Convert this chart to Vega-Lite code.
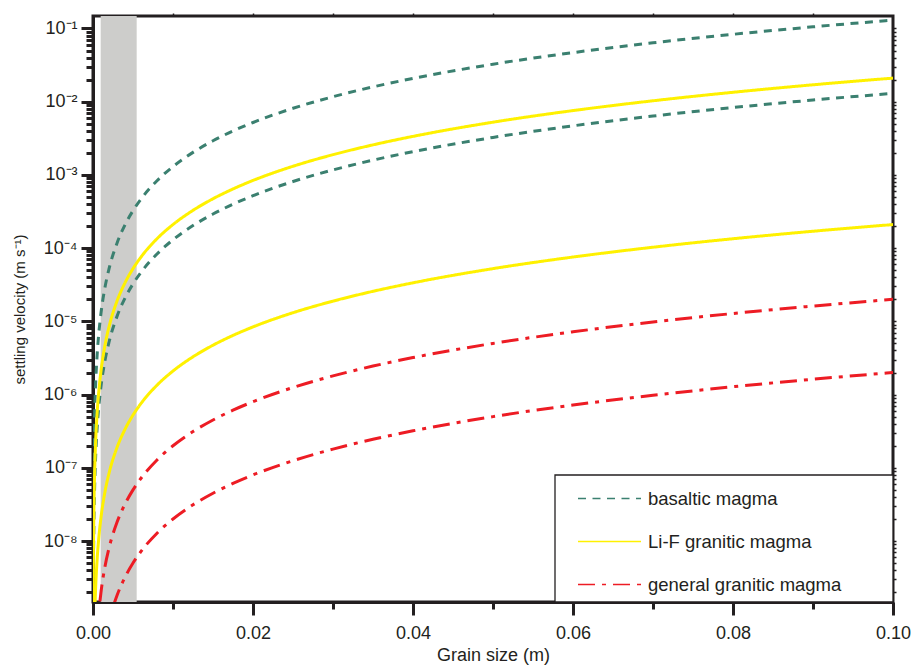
{
  "$schema": "https://vega.github.io/schema/vega-lite/v6.json",
  "width": 800,
  "height": 586,
  "autosize": {"type": "none"},
  "padding": {"left": 93, "top": 16, "right": 22, "bottom": 63},
  "background": "white",
  "config": {
    "view": {"stroke": "#231f20", "strokeWidth": 3},
    "axis": {
      "domainColor": "#231f20", "tickColor": "#231f20", "labelColor": "#231f20", "titleColor": "#231f20",
      "labelFont": "Liberation Sans", "titleFont": "Liberation Sans", "grid": false,
      "domainWidth": 3, "tickWidth": 3, "labelFontSize": 18, "titleFontSize": 18, "titleFontWeight": "normal"
    },
    "legend": {
      "orient": "none", "legendX": 505, "legendY": 471, "padding": 0,
      "symbolType": "M-3,0H3", "symbolSize": 441, "symbolStrokeWidth": 1.5,
      "labelFont": "Liberation Sans", "labelFontSize": 18.5, "labelColor": "#231f20", "labelLimit": 400,
      "labelOffset": 27, "rowPadding": 22
    }
  },
  "datasets": {
    "curves": [
      {"d":0.00001,"v":1.3e-9,"c":"B1","m":"basaltic magma"},
      {"d":0.00005,"v":3.25e-8,"c":"B1","m":"basaltic magma"},
      {"d":0.0001,"v":1.3e-7,"c":"B1","m":"basaltic magma"},
      {"d":0.0002,"v":5.2e-7,"c":"B1","m":"basaltic magma"},
      {"d":0.0003,"v":1.17e-6,"c":"B1","m":"basaltic magma"},
      {"d":0.0005,"v":3.25e-6,"c":"B1","m":"basaltic magma"},
      {"d":0.0007,"v":6.37e-6,"c":"B1","m":"basaltic magma"},
      {"d":0.001,"v":1.3e-5,"c":"B1","m":"basaltic magma"},
      {"d":0.0015,"v":2.925e-5,"c":"B1","m":"basaltic magma"},
      {"d":0.002,"v":5.2e-5,"c":"B1","m":"basaltic magma"},
      {"d":0.003,"v":1.17e-4,"c":"B1","m":"basaltic magma"},
      {"d":0.004,"v":2.08e-4,"c":"B1","m":"basaltic magma"},
      {"d":0.005,"v":3.25e-4,"c":"B1","m":"basaltic magma"},
      {"d":0.006,"v":4.68e-4,"c":"B1","m":"basaltic magma"},
      {"d":0.008,"v":8.32e-4,"c":"B1","m":"basaltic magma"},
      {"d":0.01,"v":1.3e-3,"c":"B1","m":"basaltic magma"},
      {"d":0.0125,"v":2.031e-3,"c":"B1","m":"basaltic magma"},
      {"d":0.015,"v":2.925e-3,"c":"B1","m":"basaltic magma"},
      {"d":0.0175,"v":3.981e-3,"c":"B1","m":"basaltic magma"},
      {"d":0.02,"v":5.2e-3,"c":"B1","m":"basaltic magma"},
      {"d":0.025,"v":8.125e-3,"c":"B1","m":"basaltic magma"},
      {"d":0.03,"v":1.17e-2,"c":"B1","m":"basaltic magma"},
      {"d":0.035,"v":1.5925e-2,"c":"B1","m":"basaltic magma"},
      {"d":0.04,"v":2.08e-2,"c":"B1","m":"basaltic magma"},
      {"d":0.05,"v":3.25e-2,"c":"B1","m":"basaltic magma"},
      {"d":0.06,"v":4.68e-2,"c":"B1","m":"basaltic magma"},
      {"d":0.07,"v":6.37e-2,"c":"B1","m":"basaltic magma"},
      {"d":0.08,"v":8.32e-2,"c":"B1","m":"basaltic magma"},
      {"d":0.09,"v":0.1053,"c":"B1","m":"basaltic magma"},
      {"d":0.1,"v":0.13,"c":"B1","m":"basaltic magma"},

      {"d":0.00001,"v":1.3e-10,"c":"B2","m":"basaltic magma"},
      {"d":0.00005,"v":3.25e-9,"c":"B2","m":"basaltic magma"},
      {"d":0.0001,"v":1.3e-8,"c":"B2","m":"basaltic magma"},
      {"d":0.0002,"v":5.2e-8,"c":"B2","m":"basaltic magma"},
      {"d":0.0003,"v":1.17e-7,"c":"B2","m":"basaltic magma"},
      {"d":0.0005,"v":3.25e-7,"c":"B2","m":"basaltic magma"},
      {"d":0.0007,"v":6.37e-7,"c":"B2","m":"basaltic magma"},
      {"d":0.001,"v":1.3e-6,"c":"B2","m":"basaltic magma"},
      {"d":0.0015,"v":2.925e-6,"c":"B2","m":"basaltic magma"},
      {"d":0.002,"v":5.2e-6,"c":"B2","m":"basaltic magma"},
      {"d":0.003,"v":1.17e-5,"c":"B2","m":"basaltic magma"},
      {"d":0.004,"v":2.08e-5,"c":"B2","m":"basaltic magma"},
      {"d":0.005,"v":3.25e-5,"c":"B2","m":"basaltic magma"},
      {"d":0.006,"v":4.68e-5,"c":"B2","m":"basaltic magma"},
      {"d":0.008,"v":8.32e-5,"c":"B2","m":"basaltic magma"},
      {"d":0.01,"v":1.3e-4,"c":"B2","m":"basaltic magma"},
      {"d":0.0125,"v":2.031e-4,"c":"B2","m":"basaltic magma"},
      {"d":0.015,"v":2.925e-4,"c":"B2","m":"basaltic magma"},
      {"d":0.0175,"v":3.981e-4,"c":"B2","m":"basaltic magma"},
      {"d":0.02,"v":5.2e-4,"c":"B2","m":"basaltic magma"},
      {"d":0.025,"v":8.125e-4,"c":"B2","m":"basaltic magma"},
      {"d":0.03,"v":1.17e-3,"c":"B2","m":"basaltic magma"},
      {"d":0.035,"v":1.5925e-3,"c":"B2","m":"basaltic magma"},
      {"d":0.04,"v":2.08e-3,"c":"B2","m":"basaltic magma"},
      {"d":0.05,"v":3.25e-3,"c":"B2","m":"basaltic magma"},
      {"d":0.06,"v":4.68e-3,"c":"B2","m":"basaltic magma"},
      {"d":0.07,"v":6.37e-3,"c":"B2","m":"basaltic magma"},
      {"d":0.08,"v":8.32e-3,"c":"B2","m":"basaltic magma"},
      {"d":0.09,"v":1.053e-2,"c":"B2","m":"basaltic magma"},
      {"d":0.1,"v":1.3e-2,"c":"B2","m":"basaltic magma"},

      {"d":0.00001,"v":2.1e-10,"c":"L1","m":"Li-F granitic magma"},
      {"d":0.00005,"v":5.25e-9,"c":"L1","m":"Li-F granitic magma"},
      {"d":0.0001,"v":2.1e-8,"c":"L1","m":"Li-F granitic magma"},
      {"d":0.0002,"v":8.4e-8,"c":"L1","m":"Li-F granitic magma"},
      {"d":0.0003,"v":1.89e-7,"c":"L1","m":"Li-F granitic magma"},
      {"d":0.0005,"v":5.25e-7,"c":"L1","m":"Li-F granitic magma"},
      {"d":0.0007,"v":1.029e-6,"c":"L1","m":"Li-F granitic magma"},
      {"d":0.001,"v":2.1e-6,"c":"L1","m":"Li-F granitic magma"},
      {"d":0.0015,"v":4.725e-6,"c":"L1","m":"Li-F granitic magma"},
      {"d":0.002,"v":8.4e-6,"c":"L1","m":"Li-F granitic magma"},
      {"d":0.003,"v":1.89e-5,"c":"L1","m":"Li-F granitic magma"},
      {"d":0.004,"v":3.36e-5,"c":"L1","m":"Li-F granitic magma"},
      {"d":0.005,"v":5.25e-5,"c":"L1","m":"Li-F granitic magma"},
      {"d":0.006,"v":7.56e-5,"c":"L1","m":"Li-F granitic magma"},
      {"d":0.008,"v":1.344e-4,"c":"L1","m":"Li-F granitic magma"},
      {"d":0.01,"v":2.1e-4,"c":"L1","m":"Li-F granitic magma"},
      {"d":0.0125,"v":3.281e-4,"c":"L1","m":"Li-F granitic magma"},
      {"d":0.015,"v":4.725e-4,"c":"L1","m":"Li-F granitic magma"},
      {"d":0.0175,"v":6.431e-4,"c":"L1","m":"Li-F granitic magma"},
      {"d":0.02,"v":8.4e-4,"c":"L1","m":"Li-F granitic magma"},
      {"d":0.025,"v":1.3125e-3,"c":"L1","m":"Li-F granitic magma"},
      {"d":0.03,"v":1.89e-3,"c":"L1","m":"Li-F granitic magma"},
      {"d":0.035,"v":2.5725e-3,"c":"L1","m":"Li-F granitic magma"},
      {"d":0.04,"v":3.36e-3,"c":"L1","m":"Li-F granitic magma"},
      {"d":0.05,"v":5.25e-3,"c":"L1","m":"Li-F granitic magma"},
      {"d":0.06,"v":7.56e-3,"c":"L1","m":"Li-F granitic magma"},
      {"d":0.07,"v":1.029e-2,"c":"L1","m":"Li-F granitic magma"},
      {"d":0.08,"v":1.344e-2,"c":"L1","m":"Li-F granitic magma"},
      {"d":0.09,"v":1.701e-2,"c":"L1","m":"Li-F granitic magma"},
      {"d":0.1,"v":2.1e-2,"c":"L1","m":"Li-F granitic magma"},

      {"d":0.0001,"v":2.1e-10,"c":"L2","m":"Li-F granitic magma"},
      {"d":0.0002,"v":8.4e-10,"c":"L2","m":"Li-F granitic magma"},
      {"d":0.0003,"v":1.89e-9,"c":"L2","m":"Li-F granitic magma"},
      {"d":0.0005,"v":5.25e-9,"c":"L2","m":"Li-F granitic magma"},
      {"d":0.0007,"v":1.029e-8,"c":"L2","m":"Li-F granitic magma"},
      {"d":0.001,"v":2.1e-8,"c":"L2","m":"Li-F granitic magma"},
      {"d":0.0015,"v":4.725e-8,"c":"L2","m":"Li-F granitic magma"},
      {"d":0.002,"v":8.4e-8,"c":"L2","m":"Li-F granitic magma"},
      {"d":0.003,"v":1.89e-7,"c":"L2","m":"Li-F granitic magma"},
      {"d":0.004,"v":3.36e-7,"c":"L2","m":"Li-F granitic magma"},
      {"d":0.005,"v":5.25e-7,"c":"L2","m":"Li-F granitic magma"},
      {"d":0.006,"v":7.56e-7,"c":"L2","m":"Li-F granitic magma"},
      {"d":0.008,"v":1.344e-6,"c":"L2","m":"Li-F granitic magma"},
      {"d":0.01,"v":2.1e-6,"c":"L2","m":"Li-F granitic magma"},
      {"d":0.0125,"v":3.281e-6,"c":"L2","m":"Li-F granitic magma"},
      {"d":0.015,"v":4.725e-6,"c":"L2","m":"Li-F granitic magma"},
      {"d":0.0175,"v":6.431e-6,"c":"L2","m":"Li-F granitic magma"},
      {"d":0.02,"v":8.4e-6,"c":"L2","m":"Li-F granitic magma"},
      {"d":0.025,"v":1.3125e-5,"c":"L2","m":"Li-F granitic magma"},
      {"d":0.03,"v":1.89e-5,"c":"L2","m":"Li-F granitic magma"},
      {"d":0.035,"v":2.5725e-5,"c":"L2","m":"Li-F granitic magma"},
      {"d":0.04,"v":3.36e-5,"c":"L2","m":"Li-F granitic magma"},
      {"d":0.05,"v":5.25e-5,"c":"L2","m":"Li-F granitic magma"},
      {"d":0.06,"v":7.56e-5,"c":"L2","m":"Li-F granitic magma"},
      {"d":0.07,"v":1.029e-4,"c":"L2","m":"Li-F granitic magma"},
      {"d":0.08,"v":1.344e-4,"c":"L2","m":"Li-F granitic magma"},
      {"d":0.09,"v":1.701e-4,"c":"L2","m":"Li-F granitic magma"},
      {"d":0.1,"v":2.1e-4,"c":"L2","m":"Li-F granitic magma"},

      {"d":0.0005,"v":5e-10,"c":"G1","m":"general granitic magma"},
      {"d":0.0007,"v":9.8e-10,"c":"G1","m":"general granitic magma"},
      {"d":0.001,"v":2e-9,"c":"G1","m":"general granitic magma"},
      {"d":0.0015,"v":4.5e-9,"c":"G1","m":"general granitic magma"},
      {"d":0.002,"v":8e-9,"c":"G1","m":"general granitic magma"},
      {"d":0.003,"v":1.8e-8,"c":"G1","m":"general granitic magma"},
      {"d":0.004,"v":3.2e-8,"c":"G1","m":"general granitic magma"},
      {"d":0.005,"v":5e-8,"c":"G1","m":"general granitic magma"},
      {"d":0.006,"v":7.2e-8,"c":"G1","m":"general granitic magma"},
      {"d":0.008,"v":1.28e-7,"c":"G1","m":"general granitic magma"},
      {"d":0.01,"v":2e-7,"c":"G1","m":"general granitic magma"},
      {"d":0.0125,"v":3.125e-7,"c":"G1","m":"general granitic magma"},
      {"d":0.015,"v":4.5e-7,"c":"G1","m":"general granitic magma"},
      {"d":0.0175,"v":6.125e-7,"c":"G1","m":"general granitic magma"},
      {"d":0.02,"v":8e-7,"c":"G1","m":"general granitic magma"},
      {"d":0.025,"v":1.25e-6,"c":"G1","m":"general granitic magma"},
      {"d":0.03,"v":1.8e-6,"c":"G1","m":"general granitic magma"},
      {"d":0.035,"v":2.45e-6,"c":"G1","m":"general granitic magma"},
      {"d":0.04,"v":3.2e-6,"c":"G1","m":"general granitic magma"},
      {"d":0.05,"v":5e-6,"c":"G1","m":"general granitic magma"},
      {"d":0.06,"v":7.2e-6,"c":"G1","m":"general granitic magma"},
      {"d":0.07,"v":9.8e-6,"c":"G1","m":"general granitic magma"},
      {"d":0.08,"v":1.28e-5,"c":"G1","m":"general granitic magma"},
      {"d":0.09,"v":1.62e-5,"c":"G1","m":"general granitic magma"},
      {"d":0.1,"v":2e-5,"c":"G1","m":"general granitic magma"},

      {"d":0.0015,"v":4.5e-10,"c":"G2","m":"general granitic magma"},
      {"d":0.002,"v":8e-10,"c":"G2","m":"general granitic magma"},
      {"d":0.003,"v":1.8e-9,"c":"G2","m":"general granitic magma"},
      {"d":0.004,"v":3.2e-9,"c":"G2","m":"general granitic magma"},
      {"d":0.005,"v":5e-9,"c":"G2","m":"general granitic magma"},
      {"d":0.006,"v":7.2e-9,"c":"G2","m":"general granitic magma"},
      {"d":0.008,"v":1.28e-8,"c":"G2","m":"general granitic magma"},
      {"d":0.01,"v":2e-8,"c":"G2","m":"general granitic magma"},
      {"d":0.0125,"v":3.125e-8,"c":"G2","m":"general granitic magma"},
      {"d":0.015,"v":4.5e-8,"c":"G2","m":"general granitic magma"},
      {"d":0.0175,"v":6.125e-8,"c":"G2","m":"general granitic magma"},
      {"d":0.02,"v":8e-8,"c":"G2","m":"general granitic magma"},
      {"d":0.025,"v":1.25e-7,"c":"G2","m":"general granitic magma"},
      {"d":0.03,"v":1.8e-7,"c":"G2","m":"general granitic magma"},
      {"d":0.035,"v":2.45e-7,"c":"G2","m":"general granitic magma"},
      {"d":0.04,"v":3.2e-7,"c":"G2","m":"general granitic magma"},
      {"d":0.05,"v":5e-7,"c":"G2","m":"general granitic magma"},
      {"d":0.06,"v":7.2e-7,"c":"G2","m":"general granitic magma"},
      {"d":0.07,"v":9.8e-7,"c":"G2","m":"general granitic magma"},
      {"d":0.08,"v":1.28e-6,"c":"G2","m":"general granitic magma"},
      {"d":0.09,"v":1.62e-6,"c":"G2","m":"general granitic magma"},
      {"d":0.1,"v":2e-6,"c":"G2","m":"general granitic magma"}
    ]
  },
  "layer": [
    {
      "data": {"values": [{"x0": 0.00096, "x1": 0.00546}]},
      "mark": {"type": "rect", "fill": "#cdcdcb", "clip": true},
      "encoding": {
        "x": {"field": "x0", "type": "quantitative", "scale": {"domain": [0, 0.1], "nice": false, "zero": false}, "axis": null},
        "x2": {"field": "x1"}
      }
    },
    {
      "data": {"name": "curves"},
      "mark": {"type": "line", "strokeWidth": 3, "interpolate": "monotone", "clip": true},
      "encoding": {
        "x": {
          "field": "d", "type": "quantitative",
          "scale": {"domain": [0, 0.1], "nice": false, "zero": false},
          "axis": {
            "orient": "bottom", "title": "Grain size (m)",
            "values": [0, 0.01, 0.02, 0.03, 0.04, 0.05, 0.06, 0.07, 0.08, 0.09, 0.1],
            "labelExpr": "round(datum.value*100) % 2 === 0 ? format(datum.value, '.2f') : ''",
            "tickSize": {"condition": {"test": "round(datum.value*100) % 2 === 0", "value": 13}, "value": 7},
            "labelPadding": 9, "labelFlush": false, "labelOverlap": false, "titlePadding": 4
          }
        },
        "y": {
          "field": "v", "type": "quantitative",
          "scale": {"type": "log", "domain": [1.47e-9, 0.148], "nice": false},
          "axis": {
            "orient": "left", "title": "settling velocity (m s⁻¹)", "titleFontSize": 15,
            "values": [2e-9,3e-9,4e-9,5e-9,6e-9,7e-9,8e-9,9e-9,
                       1e-8,2e-8,3e-8,4e-8,5e-8,6e-8,7e-8,8e-8,9e-8,
                       1e-7,2e-7,3e-7,4e-7,5e-7,6e-7,7e-7,8e-7,9e-7,
                       1e-6,2e-6,3e-6,4e-6,5e-6,6e-6,7e-6,8e-6,9e-6,
                       1e-5,2e-5,3e-5,4e-5,5e-5,6e-5,7e-5,8e-5,9e-5,
                       1e-4,2e-4,3e-4,4e-4,5e-4,6e-4,7e-4,8e-4,9e-4,
                       1e-3,2e-3,3e-3,4e-3,5e-3,6e-3,7e-3,8e-3,9e-3,
                       1e-2,2e-2,3e-2,4e-2,5e-2,6e-2,7e-2,8e-2,9e-2,0.1],
            "labelExpr": "abs(log(datum.value)/LN10 - round(log(datum.value)/LN10)) < 1e-6 ? '10⁻' + ['⁰','¹','²','³','⁴','⁵','⁶','⁷','⁸','⁹'][-round(log(datum.value)/LN10)] : ''",
            "tickSize": {"condition": {"test": "abs(log(datum.value)/LN10 - round(log(datum.value)/LN10)) < 1e-6", "value": 12}, "value": 7},
            "labelPadding": 4, "labelOverlap": false, "labelBound": false, "titlePadding": 16
          }
        },
        "color": {
          "field": "m", "type": "nominal",
          "scale": {"domain": ["basaltic magma", "Li-F granitic magma", "general granitic magma"], "range": ["#3b8070", "#fff100", "#ed1c24"]},
          "legend": {"title": null}
        },
        "strokeDash": {
          "field": "m", "type": "nominal",
          "scale": {"domain": ["basaltic magma", "Li-F granitic magma", "general granitic magma"], "range": [[8, 6.5], [1, 0], [17, 7, 4, 7]]},
          "legend": {"title": null}
        },
        "detail": {"field": "c", "type": "nominal"}
      }
    },
    {
      "data": {"values": [{"x0": 0.05775, "x1": 0.1, "y0": 1.47e-9, "y1": 7.97e-8}]},
      "mark": {"type": "rect", "fill": "white", "stroke": "#231f20", "strokeWidth": 1.3},
      "encoding": {
        "x": {
          "field": "x0", "type": "quantitative", "scale": {"domain": [0, 0.1], "nice": false, "zero": false},
          "axis": {"orient": "top", "title": null, "labels": false, "domain": false, "tickSize": 3, "tickWidth": 1.5,
                   "values": [0.01, 0.02, 0.03, 0.04, 0.05, 0.06, 0.07, 0.08, 0.09]}
        },
        "x2": {"field": "x1"},
        "y": {
          "field": "y0", "type": "quantitative", "scale": {"type": "log", "domain": [1.47e-9, 0.148], "nice": false},
          "axis": {"orient": "right", "title": null, "labels": false, "domain": false, "tickSize": 3, "tickWidth": 1.5,
                   "values": [2e-9,3e-9,4e-9,5e-9,6e-9,7e-9,8e-9,9e-9,
                       1e-8,2e-8,3e-8,4e-8,5e-8,6e-8,7e-8,8e-8,9e-8,
                       1e-7,2e-7,3e-7,4e-7,5e-7,6e-7,7e-7,8e-7,9e-7,
                       1e-6,2e-6,3e-6,4e-6,5e-6,6e-6,7e-6,8e-6,9e-6,
                       1e-5,2e-5,3e-5,4e-5,5e-5,6e-5,7e-5,8e-5,9e-5,
                       1e-4,2e-4,3e-4,4e-4,5e-4,6e-4,7e-4,8e-4,9e-4,
                       1e-3,2e-3,3e-3,4e-3,5e-3,6e-3,7e-3,8e-3,9e-3,
                       1e-2,2e-2,3e-2,4e-2,5e-2,6e-2,7e-2,8e-2,9e-2,0.1]}
        },
        "y2": {"field": "y1"}
      }
    }
  ],
  "resolve": {"axis": {"x": "independent", "y": "independent"}}
}
